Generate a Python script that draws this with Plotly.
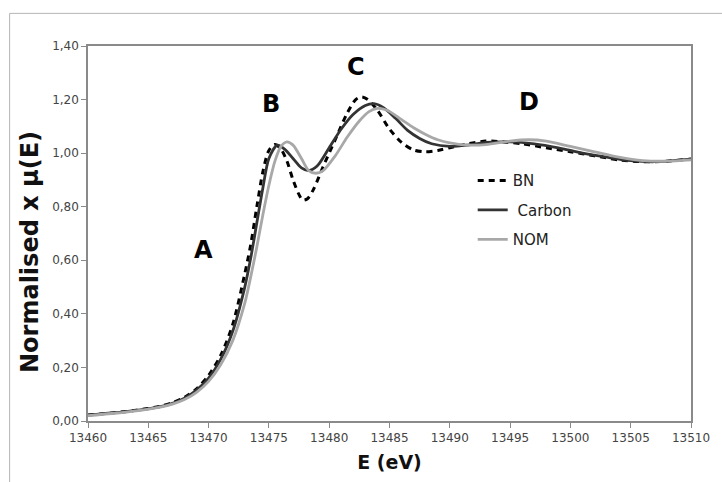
import plotly.graph_objects as go

# ---- data ----
bn_e = [13460, 13462, 13464, 13466, 13467, 13468, 13469, 13470, 13471, 13472, 13473, 13473.5,
        13474, 13474.5, 13475, 13475.5, 13476, 13476.5, 13477, 13477.5, 13477.8, 13478.2, 13478.7,
        13479.5, 13480.5, 13481.5, 13482.2, 13482.7, 13483.2, 13484, 13485, 13486, 13487, 13488,
        13489, 13490, 13491.5, 13493, 13494.5, 13496, 13498, 13500, 13502, 13504, 13506, 13508, 13510]
bn_mu = [0.022, 0.03, 0.04, 0.055, 0.068, 0.088, 0.12, 0.17, 0.245, 0.36, 0.55, 0.66,
         0.8, 0.93, 1.01, 1.032, 1.015, 0.97, 0.9, 0.845, 0.825, 0.83, 0.865,
         0.95, 1.05, 1.15, 1.2, 1.21, 1.2, 1.16, 1.09, 1.04, 1.012, 1.005,
         1.01, 1.02, 1.035, 1.045, 1.042, 1.035, 1.02, 1.005, 0.99, 0.975, 0.968, 0.97, 0.978]

carbon_e = [13460, 13462, 13464, 13466, 13467, 13468, 13469, 13470, 13471, 13472, 13473, 13473.5,
            13474, 13474.5, 13475, 13475.7, 13476.3, 13477, 13477.7, 13478.3, 13479, 13480, 13481,
            13482, 13483, 13483.7, 13484.5, 13485.5, 13486.5, 13487.5, 13488.5, 13490, 13491.5,
            13493, 13495, 13497, 13499, 13501, 13503, 13505, 13507, 13510]
carbon_mu = [0.022, 0.03, 0.04, 0.054, 0.066, 0.085, 0.115, 0.16, 0.23, 0.335, 0.5, 0.61,
             0.74, 0.87, 0.98, 1.03, 1.015, 0.98, 0.945, 0.935, 0.952, 1.02, 1.09,
             1.145, 1.178, 1.185, 1.17, 1.13, 1.085, 1.055, 1.035, 1.025, 1.03,
             1.04, 1.042, 1.035, 1.02, 1.0, 0.985, 0.972, 0.968, 0.978]

nom_e = [13460, 13462, 13464, 13466, 13467, 13468, 13469, 13470, 13471, 13472, 13473, 13473.5,
         13474, 13474.5, 13475, 13475.5, 13476, 13476.5, 13477, 13477.7, 13478.3, 13478.9, 13479.5,
         13480.5, 13481.5, 13482.5, 13483.3, 13484, 13484.8, 13486, 13487, 13488, 13489, 13490,
         13491.5, 13493, 13495, 13496.5, 13498, 13500, 13502, 13504, 13506, 13508, 13510]
nom_mu = [0.02, 0.028, 0.038, 0.052, 0.063, 0.08, 0.107, 0.148, 0.21, 0.3, 0.44, 0.54,
          0.65, 0.77, 0.88, 0.97, 1.025, 1.042, 1.03, 0.98, 0.935, 0.925, 0.935,
          0.99, 1.06, 1.12, 1.155, 1.167, 1.16, 1.125, 1.095, 1.07, 1.05, 1.038,
          1.03, 1.032, 1.045, 1.05, 1.045, 1.025, 1.005, 0.985, 0.972, 0.97, 0.975]

x_ticks = [13460, 13465, 13470, 13475, 13480, 13485, 13490, 13495, 13500, 13505, 13510]
x_ticktext = [str(v) for v in x_ticks]
y_ticks = [0.0, 0.2, 0.4, 0.6, 0.8, 1.0, 1.2, 1.4]
y_ticktext = ["0,00", "0,20", "0,40", "0,60", "0,80", "1,00", "1,20", "1,40"]

peak_labels = ["A", "B", "C", "D"]
peak_e = [13469.6, 13475.2, 13482.2, 13496.6]
peak_mu = [0.64, 1.185, 1.32, 1.19]

FONT = "DejaVu Sans"

fig = go.Figure()
fig.add_trace(go.Scatter(x=bn_e, y=bn_mu, name="BN", mode="lines", legendgroup="bn",
                         line=dict(color="#000000", width=3, dash="6px,5px", shape="spline", smoothing=0.8)))
fig.add_trace(go.Scatter(x=carbon_e, y=carbon_mu, name="\u00a0Carbon", mode="lines", legendgroup="carbon",
                         line=dict(color="#333333", width=2.8, shape="spline", smoothing=0.8)))
fig.add_trace(go.Scatter(x=nom_e, y=nom_mu, name="NOM", mode="lines", legendgroup="nom",
                         line=dict(color="#a8a8a8", width=2.8, shape="spline", smoothing=0.8)))

for lab, xe, ym in zip(peak_labels, peak_e, peak_mu):
    fig.add_annotation(x=xe, y=ym, text="<b>%s</b>" % lab, showarrow=False,
                       font=dict(family=FONT, size=24, color="#000000"))

# y axis title (placed slightly below the axis centre, as in the reference)
fig.add_annotation(xref="paper", yref="paper", x=-0.095, y=0.45, text="<b>Normalised x µ(E)</b>",
                   textangle=-90, showarrow=False, xanchor="center", yanchor="middle",
                   font=dict(family=FONT, size=24, color="#111111"))

# outer chart frame (cropped on the right and bottom)
fig.add_shape(type="line", xref="paper", yref="paper", x0=-0.13, x1=1.2, y0=1.087, y1=1.087,
              line=dict(color="#b5b5b5", width=1))
fig.add_shape(type="line", xref="paper", yref="paper", x0=-0.13, x1=-0.13, y0=1.087, y1=-0.3,
              line=dict(color="#b5b5b5", width=1))

fig.update_layout(
    width=722, height=482,
    margin=dict(l=88, r=22, t=46, b=58),
    paper_bgcolor="white", plot_bgcolor="white",
    font=dict(family=FONT, color="#333333"),
    showlegend=True,
    legend=dict(x=0.638, y=0.685, xanchor="left", yanchor="top", traceorder="grouped",
                font=dict(family=FONT, size=15, color="#222222"),
                bgcolor="rgba(0,0,0,0)", tracegroupgap=7),
)
fig.update_xaxes(range=[13460, 13510], tickmode="array", tickvals=x_ticks, ticktext=x_ticktext,
                 showgrid=False, zeroline=False, showline=True, linecolor="#8a8a8a", linewidth=1.5,
                 mirror=True, ticks="outside", ticklen=5, tickcolor="#8a8a8a",
                 tickfont=dict(family=FONT, size=12, color="#444444"),
                 title=dict(text="<b>E (eV)</b>", font=dict(family=FONT, size=19, color="#111111"), standoff=12))
fig.update_yaxes(range=[0, 1.4], tickmode="array", tickvals=y_ticks, ticktext=y_ticktext,
                 showgrid=False, zeroline=False, showline=True, linecolor="#8a8a8a", linewidth=1.5,
                 mirror=True, ticks="outside", ticklen=5, tickcolor="#8a8a8a",
                 tickfont=dict(family=FONT, size=12, color="#444444"))

fig.write_html("out.html", config={"displayModeBar": False},
               post_script="document.body.style.margin='0';document.body.style.overflow='hidden';")
